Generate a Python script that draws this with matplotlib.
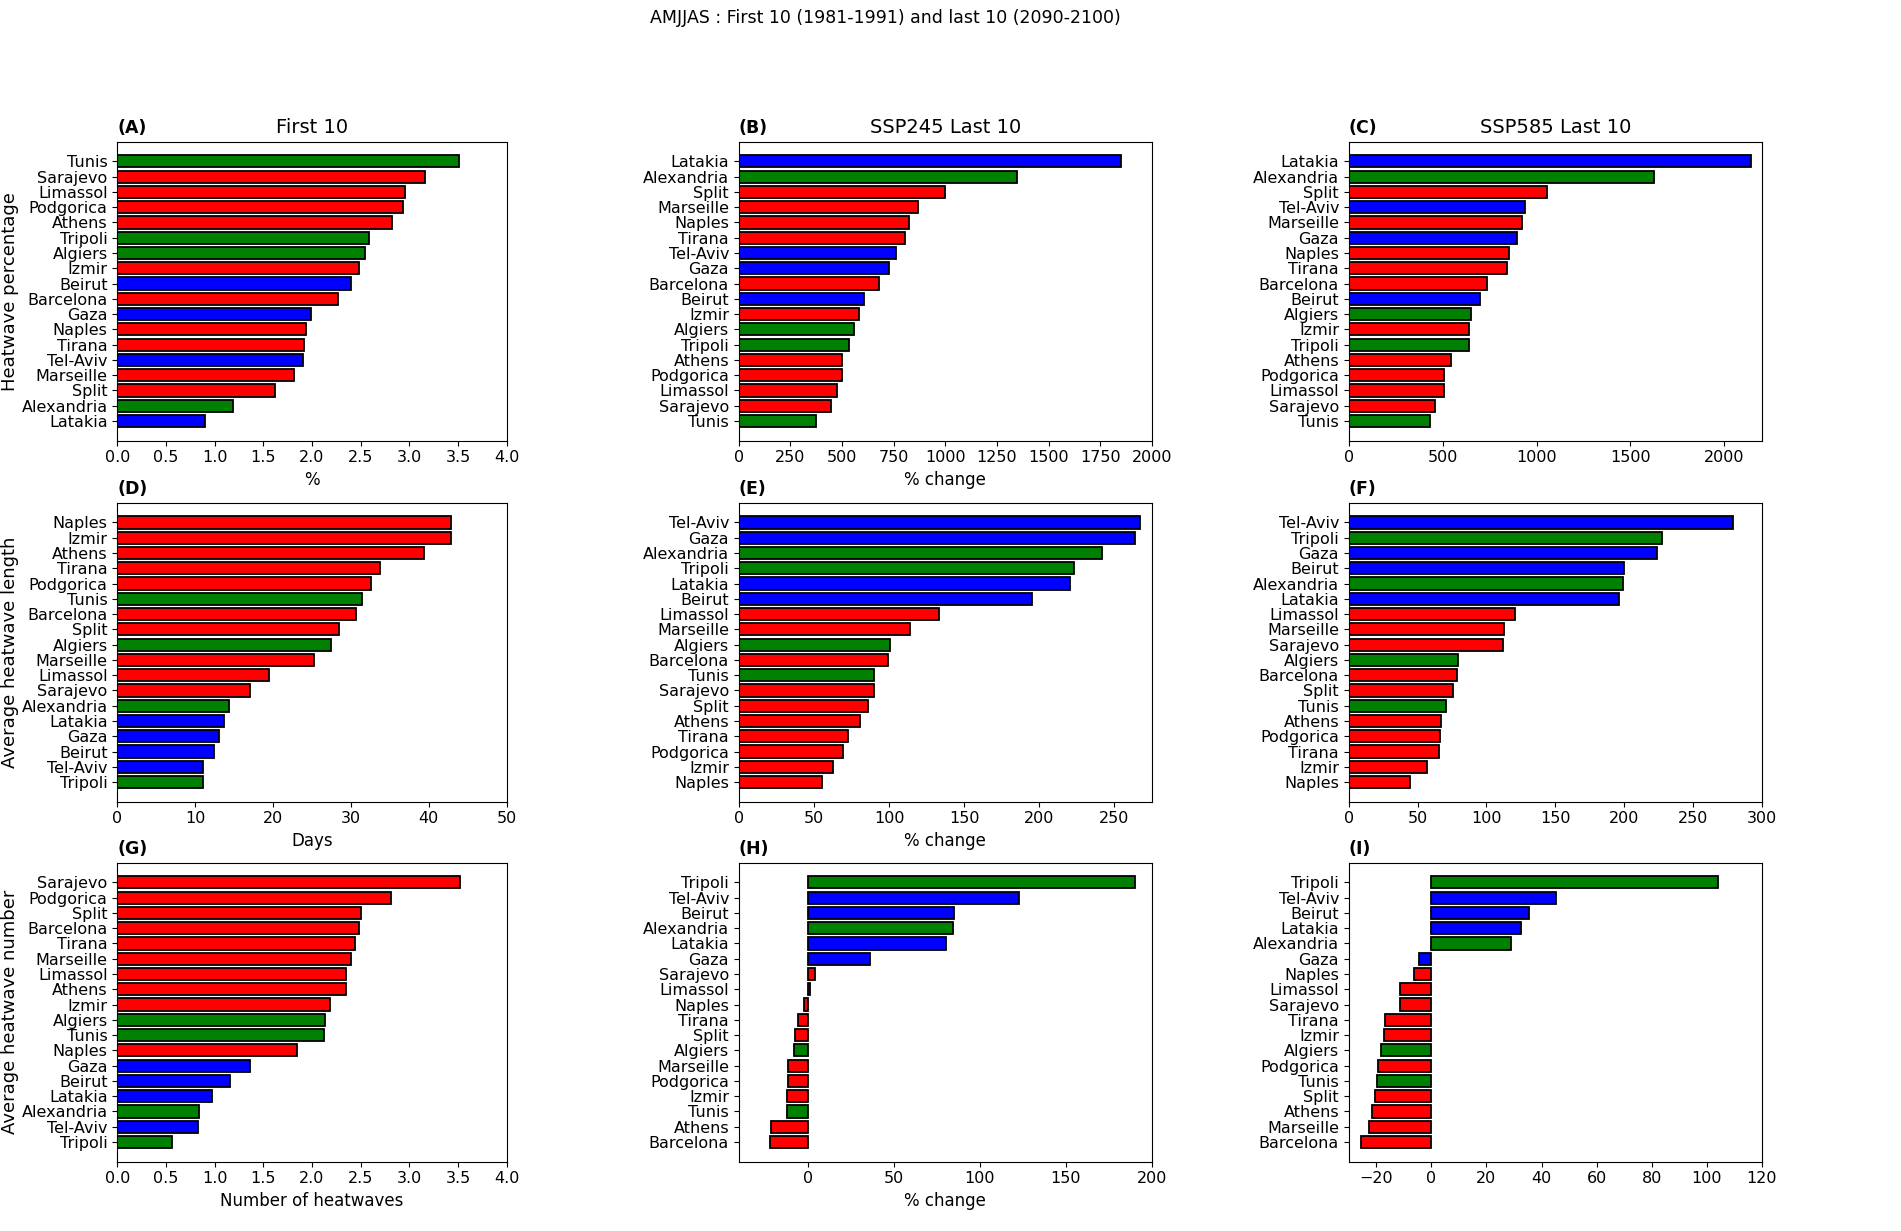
import numpy as np
import matplotlib
matplotlib.use('Agg')
from matplotlib import pyplot as plt

# city groups (bar colours)
levant = ['Latakia', 'Beirut', 'Gaza', 'Tel-Aviv']
north_africa = ['Tunis', 'Tripoli', 'Algiers', 'Alexandria']

# ---- heatwave percentage ----
a_cities = ['Tunis', 'Sarajevo', 'Limassol', 'Podgorica', 'Athens', 'Tripoli', 'Algiers', 'Izmir',
            'Beirut', 'Barcelona', 'Gaza', 'Naples', 'Tirana', 'Tel-Aviv', 'Marseille', 'Split',
            'Alexandria', 'Latakia']
a_vals = [3.51, 3.16, 2.96, 2.94, 2.82, 2.59, 2.54, 2.48, 2.40, 2.27, 1.99, 1.94, 1.92, 1.91,
          1.82, 1.62, 1.19, 0.90]

b_cities = ['Latakia', 'Alexandria', 'Split', 'Marseille', 'Naples', 'Tirana', 'Tel-Aviv', 'Gaza',
            'Barcelona', 'Beirut', 'Izmir', 'Algiers', 'Tripoli', 'Athens', 'Podgorica', 'Limassol',
            'Sarajevo', 'Tunis']
b_vals = [1850, 1345, 997, 869, 823, 803, 761, 729, 681, 606, 584, 560, 534, 502, 498, 474, 447, 376]

c_cities = ['Latakia', 'Alexandria', 'Split', 'Tel-Aviv', 'Marseille', 'Gaza', 'Naples', 'Tirana',
            'Barcelona', 'Beirut', 'Algiers', 'Izmir', 'Tripoli', 'Athens', 'Podgorica', 'Limassol',
            'Sarajevo', 'Tunis']
c_vals = [2142, 1623, 1055, 941, 925, 895, 856, 845, 735, 698, 653, 639, 639, 543, 509, 509, 461, 431]

# ---- average heatwave length ----
d_cities = ['Naples', 'Izmir', 'Athens', 'Tirana', 'Podgorica', 'Tunis', 'Barcelona', 'Split',
            'Algiers', 'Marseille', 'Limassol', 'Sarajevo', 'Alexandria', 'Latakia', 'Gaza', 'Beirut',
            'Tel-Aviv', 'Tripoli']
d_vals = [42.9, 42.9, 39.4, 33.8, 32.6, 31.4, 30.6, 28.5, 27.5, 25.2, 19.5, 17.0, 14.4, 13.7,
          13.1, 12.4, 11.0, 11.0]

e_cities = ['Tel-Aviv', 'Gaza', 'Alexandria', 'Tripoli', 'Latakia', 'Beirut', 'Limassol', 'Marseille',
            'Algiers', 'Barcelona', 'Tunis', 'Sarajevo', 'Split', 'Athens', 'Tirana', 'Podgorica',
            'Izmir', 'Naples']
e_vals = [266.9, 263.8, 241.8, 223.1, 220.5, 195.4, 133.4, 113.9, 100.4, 99.5, 89.9, 89.7, 85.9,
          80.8, 72.4, 69.7, 62.4, 55.3]

f_cities = ['Tel-Aviv', 'Tripoli', 'Gaza', 'Beirut', 'Alexandria', 'Latakia', 'Limassol', 'Marseille',
            'Sarajevo', 'Algiers', 'Barcelona', 'Split', 'Tunis', 'Athens', 'Podgorica', 'Tirana',
            'Izmir', 'Naples']
f_vals = [279.4, 227.8, 223.7, 199.7, 199.2, 196.3, 120.7, 112.9, 112.0, 79.2, 78.5, 75.6, 70.3,
          67.1, 66.6, 65.2, 56.7, 44.3]

# ---- average heatwave number ----
g_cities = ['Sarajevo', 'Podgorica', 'Split', 'Barcelona', 'Tirana', 'Marseille', 'Limassol', 'Athens',
            'Izmir', 'Algiers', 'Tunis', 'Naples', 'Gaza', 'Beirut', 'Latakia', 'Alexandria',
            'Tel-Aviv', 'Tripoli']
g_vals = [3.52, 2.81, 2.50, 2.48, 2.44, 2.40, 2.35, 2.35, 2.19, 2.13, 2.12, 1.85, 1.36, 1.16,
          0.97, 0.84, 0.83, 0.56]

h_cities = ['Tripoli', 'Tel-Aviv', 'Beirut', 'Alexandria', 'Latakia', 'Gaza', 'Sarajevo', 'Limassol',
            'Naples', 'Tirana', 'Split', 'Algiers', 'Marseille', 'Podgorica', 'Izmir', 'Tunis',
            'Athens', 'Barcelona']
h_vals = [190.2, 123.0, 85.2, 84.2, 80.5, 36.0, 4.5, 1.5, -1.9, -5.8, -7.6, -7.9, -11.2, -11.6,
          -12.0, -12.0, -21.3, -22.1]

i_cities = ['Tripoli', 'Tel-Aviv', 'Beirut', 'Latakia', 'Alexandria', 'Gaza', 'Naples', 'Limassol',
            'Sarajevo', 'Tirana', 'Izmir', 'Algiers', 'Podgorica', 'Tunis', 'Split', 'Athens',
            'Marseille', 'Barcelona']
i_vals = [104.0, 45.4, 35.4, 32.4, 28.9, -4.4, -6.2, -11.5, -11.5, -16.8, -17.3, -18.3, -19.4,
          -19.7, -20.6, -21.7, -22.7, -25.4]


def city_colour(c):
    if c in levant:
        return 'blue'
    if c in north_africa:
        return 'green'
    return 'red'


def panel(ax, cities, vals, letter, xlabel, xlim, title=None, ylabel=None):
    y = np.arange(len(cities))
    ax.barh(y, vals, height=0.8, color=[city_colour(c) for c in cities],
            edgecolor='black', linewidth=1.3)
    ax.set_yticks(y)
    ax.set_yticklabels(cities)
    ax.invert_yaxis()
    ax.set_xlim(xlim)
    ax.set_title(letter, loc='left', fontweight='bold', fontsize=12.5)
    if title:
        ax.set_title(title, fontsize=14)
    if xlabel:
        ax.set_xlabel(xlabel, fontsize=12)
    if ylabel:
        ax.set_ylabel(ylabel, fontsize=13)
        ax.yaxis.set_label_coords(-0.252, 0.5)


def main():
    plt.rcParams['font.size'] = 11.5
    fig = plt.figure(figsize=(19.01, 12.31), dpi=100)

    lefts = [0.0617, 0.3886, 0.7095]
    widths = [0.2048, 0.2174, 0.2173]
    bottoms = [0.642, 0.3487, 0.0563]
    h = 0.2429
    axs = [[fig.add_axes([lefts[j], bottoms[i], widths[j], h]) for j in range(3)] for i in range(3)]

    panel(axs[0][0], a_cities, a_vals, '(A)', '%', (0, 4), 'First 10', 'Heatwave percentage')
    panel(axs[0][1], b_cities, b_vals, '(B)', '% change', (0, 2000), 'SSP245 Last 10')
    panel(axs[0][2], c_cities, c_vals, '(C)', None, (0, 2200), 'SSP585 Last 10')
    panel(axs[1][0], d_cities, d_vals, '(D)', 'Days', (0, 50), None, 'Average heatwave length')
    panel(axs[1][1], e_cities, e_vals, '(E)', '% change', (0, 275))
    panel(axs[1][2], f_cities, f_vals, '(F)', None, (0, 300))
    panel(axs[2][0], g_cities, g_vals, '(G)', 'Number of heatwaves', (0, 4), None, 'Average heatwave number')
    panel(axs[2][1], h_cities, h_vals, '(H)', '% change', (-40, 200))
    panel(axs[2][2], i_cities, i_vals, '(I)', None, (-30, 120))

    axs[0][1].set_xticks([0, 250, 500, 750, 1000, 1250, 1500, 1750, 2000])
    axs[0][2].set_xticks([0, 500, 1000, 1500, 2000])
    axs[2][1].set_xticks([0, 50, 100, 150, 200])

    fig.suptitle('AMJJAS : First 10 (1981-1991) and last 10 (2090-2100)', x=0.4655, y=0.993, fontsize=12.5)
    fig.savefig('out.png', dpi=100)


if __name__ == '__main__':
    main()
